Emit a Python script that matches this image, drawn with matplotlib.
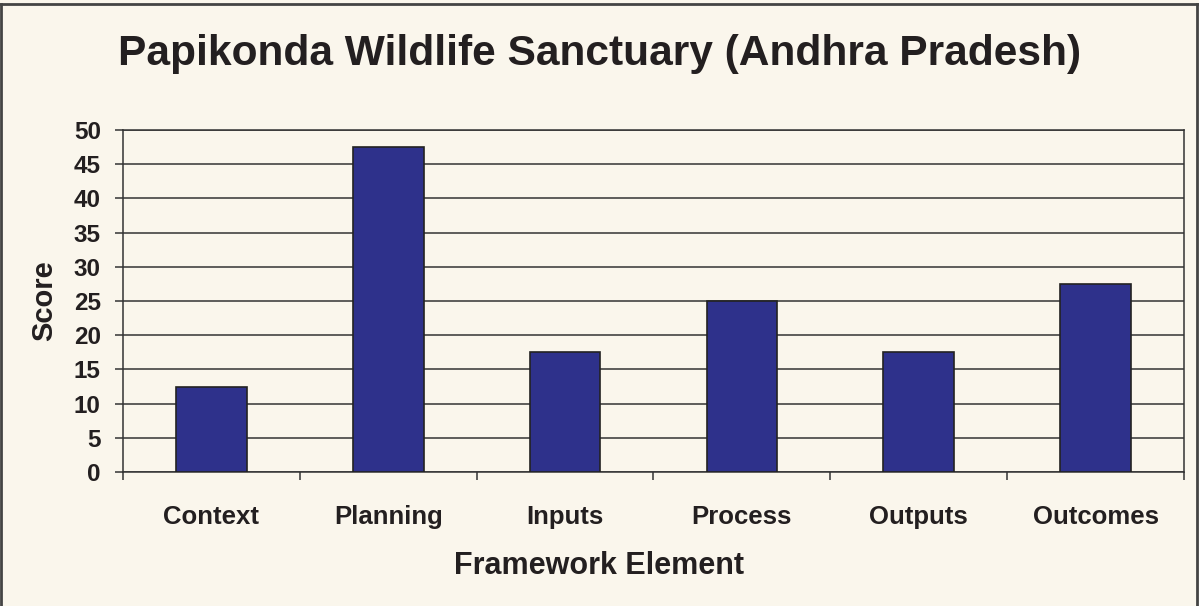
import matplotlib.pyplot as plt
import matplotlib.lines as mlines
import numpy as np

categories = ["Context", "Planning", "Inputs", "Process", "Outputs", "Outcomes"]
scores = [12.5, 47.5, 17.5, 25, 17.5, 27.5]
yticks = [0, 5, 10, 15, 20, 25, 30, 35, 40, 45, 50]

bg = "#faf6ec"
bar_color = "#2e318b"
txt = "#231f20"
plt.rcParams["font.family"] = ["Liberation Sans", "DejaVu Sans"]
plt.rcParams["font.weight"] = "bold"

W, H = 1199, 606
fig = plt.figure(figsize=(W / 100, H / 100), dpi=100, facecolor=bg)
ax = fig.add_axes([123 / W, (H - 472) / H, (1184 - 123) / W, (472 - 130) / H])
ax.set_facecolor(bg)

x = np.arange(len(categories))
ax.bar(x, scores, width=0.4, color=bar_color, edgecolor="#222222", linewidth=1.2, zorder=3)

ax.set_xlim(-0.5, len(categories) - 0.5)
ax.set_ylim(0, 50)
ax.set_yticks(yticks)
ax.set_yticklabels([str(v) for v in yticks], fontsize=17.5, fontweight="bold", color=txt)
ax.yaxis.grid(True, color="#333333", linewidth=1.1, zorder=0)

# category labels centred, ticks on category boundaries
ax.set_xticks(np.arange(-0.5, len(categories), 1))
ax.set_xticklabels([])
ax.set_xticks(x, minor=True)
ax.set_xticklabels(categories, minor=True, fontsize=18.5, fontweight="bold", color=txt)
ax.tick_params(axis="x", which="major", length=6, width=1.1, color="#333333", direction="out")
ax.tick_params(axis="x", which="minor", length=0, pad=24)
ax.tick_params(axis="y", length=6, width=1.1, color="#333333", direction="out", pad=10)

for s in ["left", "bottom", "right", "top"]:
    ax.spines[s].set_color("#333333")
    ax.spines[s].set_linewidth(1.1)

ax.set_ylabel("Score", fontsize=21, fontweight="bold", color=txt, labelpad=11)

fig.text(0.5, 1 - 566 / H, "Framework Element", ha="center", va="center",
         fontsize=22, fontweight="bold", color=txt)
fig.text(0.5, 1 - 54 / H, "Papikonda Wildlife Sanctuary (Andhra Pradesh)", ha="center", va="center",
         fontsize=30.6, fontweight="bold", color=txt)

# outer frame: left, top and right edges only
edge = dict(transform=fig.transFigure, color="#444444", linewidth=2)
fig.add_artist(mlines.Line2D([1 / W, 1 / W], [0, 1 - 4 / H], **edge))
fig.add_artist(mlines.Line2D([1 / W, 1 - 2 / W], [1 - 4 / H, 1 - 4 / H], **edge))
fig.add_artist(mlines.Line2D([1 - 2 / W, 1 - 2 / W], [0, 1 - 4 / H], **edge))

fig.savefig("out.png", dpi=100, facecolor=bg)
